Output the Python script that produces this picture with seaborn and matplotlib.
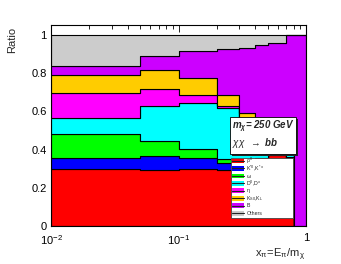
import numpy as np
import pandas as pd
import matplotlib
matplotlib.use("Agg")
import matplotlib.pyplot as plt
from matplotlib.patches import Rectangle
from matplotlib.lines import Line2D
from matplotlib.ticker import MultipleLocator, LogLocator, NullFormatter
import seaborn as sns

# ---- data ----
bin_edges = [0.01, 0.05, 0.1, 0.2, 0.3, 0.4, 0.5, 0.6, 0.7, 0.8, 0.9, 1.0]
species = ["ρ$^{0}$", "K$^{*0}$,K$^{*\\pm}$", "ω", "D$^{0}$,D$^{\\pm}$",
           "η", "K$_{S0}$,K$_{L}$", "B", "Others"]
rho    = [0.298, 0.294, 0.300, 0.293, 0.300, 0.330, 0.373, 0.373, 0.355, 0.0, 0.0]
kstar  = [0.061, 0.072, 0.057, 0.039, 0.020, 0.015, 0.005, 0.005, 0.002, 0.0, 0.0]
omega  = [0.122, 0.082, 0.049, 0.018, 0.015, 0.010, 0.004, 0.004, 0.003, 0.0, 0.0]
dmes   = [0.083, 0.181, 0.239, 0.268, 0.215, 0.145, 0.068, 0.058, 0.030, 0.0, 0.0]
eta    = [0.135, 0.087, 0.043, 0.012, 0.010, 0.010, 0.005, 0.005, 0.002, 0.0, 0.0]
kshort = [0.094, 0.099, 0.089, 0.056, 0.031, 0.020, 0.015, 0.015, 0.003, 0.0, 0.0]
bmes   = [0.045, 0.075, 0.139, 0.239, 0.339, 0.418, 0.490, 0.500, 0.605, 1.0, 1.0]
others = [0.162, 0.110, 0.084, 0.075, 0.070, 0.052, 0.040, 0.040, 0.0, 0.0, 0.0]
series = [rho, kstar, omega, dmes, eta, kshort, bmes, others]
colors = ["#FF0000", "#0000FF", "#00FF00", "#00FFFF", "#FF00FF", "#FFCC00", "#CC00FF", "#CCCCCC"]
ytick_vals = [0, 0.2, 0.4, 0.6, 0.8, 1.0]
ytick_labels = ["0", "0.2", "0.4", "0.6", "0.8", "1"]
xtick_vals = [0.01, 0.1, 1.0]
xtick_labels = [r"$10^{-2}$", r"$10^{-1}$", "1"]

edges = np.array(bin_edges)
centers = np.sqrt(edges[:-1] * edges[1:])
rows = []
for name, vals in zip(species, series):
    for c, v in zip(centers, vals):
        rows.append({"x": c, "w": v, "species": name})
df = pd.DataFrame(rows)

# ---- style ----
sns.set_theme(style="ticks")
plt.rcParams["font.family"] = ["Liberation Sans", "DejaVu Sans"]
plt.rcParams["mathtext.fontset"] = "custom"
plt.rcParams["mathtext.rm"] = "Liberation Sans"
plt.rcParams["mathtext.it"] = "Liberation Sans:italic"
plt.rcParams["mathtext.bf"] = "Liberation Sans:bold"
plt.rcParams["mathtext.bfit"] = "Liberation Sans:italic:bold"
plt.rcParams["mathtext.sf"] = "Liberation Sans"
plt.rcParams["mathtext.default"] = "regular"

W, H = 341, 264
fig = plt.figure(figsize=(W / 100, H / 100), dpi=100)
fig.patch.set_facecolor("white")

def fx(px):
    return px / W

def fy(py):
    return 1 - py / H

ax = fig.add_axes([fx(51), fy(226.3), fx(306) - fx(51), fy(25) - fy(226.3)])

palette = dict(zip(species, colors))
sns.histplot(data=df, x="x", weights="w", hue="species",
             hue_order=species[::-1], palette=palette,
             bins=[float(v) for v in np.log10(edges)], log_scale=True,
             multiple="stack", element="step", fill=True, alpha=1.0,
             edgecolor="black", linewidth=0.8, legend=False, ax=ax)

ax.set_xlim(0.01, 1.0)
ax.set_ylim(0, 1.052)
ax.set_xlabel("")
ax.set_ylabel("")
ax.yaxis.set_minor_locator(MultipleLocator(0.05))
ax.set_yticks(ytick_vals)
ax.set_yticklabels(ytick_labels)
ax.xaxis.set_minor_locator(LogLocator(base=10, subs=np.arange(2, 10), numticks=20))
ax.xaxis.set_minor_formatter(NullFormatter())
ax.set_xticks(xtick_vals)
ax.set_xticklabels(xtick_labels)
ax.tick_params(which="both", direction="in", top=True, right=True, colors="black",
               labelsize=8, width=0.6)
ax.tick_params(which="major", length=5)
ax.tick_params(axis="x", which="major", pad=5)
ax.tick_params(axis="y", which="major", pad=3)
ax.tick_params(which="minor", length=2.8)
for s in ax.spines.values():
    s.set_linewidth(0.8)
    s.set_color("black")
    s.set_visible(True)

# axis titles
fig.text(fx(12.5), fy(27), "Ratio", rotation=90, ha="center", va="top", fontsize=8)
fig.text(fx(305), fy(255), r"$\mathrm{x_{\pi}\!=\!E_{\pi}/m_{\chi}}$", ha="right", va="center", fontsize=8)

# text box with shadow
bx0, bx1, by0, by1 = 230, 296, 116.7, 154
fig.patches.append(Rectangle((fx(bx0 + 2), fy(by1 + 2)), fx(bx1) - fx(bx0), fy(by0) - fy(by1),
                             transform=fig.transFigure, facecolor="#222222", edgecolor="none", zorder=5))
fig.patches.append(Rectangle((fx(bx0), fy(by1)), fx(bx1) - fx(bx0), fy(by0) - fy(by1),
                             transform=fig.transFigure, facecolor="white", edgecolor="black",
                             linewidth=0.6, zorder=6))
fig.text(fx(232), fy(129), r"$\mathbfit{m_{\chi}}$= 250 GeV", fontsize=7, fontweight="bold",
         fontstyle="italic", ha="left", va="baseline", zorder=7)
fig.text(fx(232), fy(146), r"$\mathit{\chi\chi}$  $\rightarrow$ $\mathbfit{bb}$", fontsize=7,
         ha="left", va="baseline", zorder=7)

# legend (drawn as a ROOT-style legend box)
lx0, lx1, ly0, ly1 = 230.7, 293, 158, 218
fig.patches.append(Rectangle((fx(lx0), fy(ly1)), fx(lx1) - fx(lx0), fy(ly0) - fy(ly1),
                             transform=fig.transFigure, facecolor="white", edgecolor="#444444",
                             linewidth=0.6, zorder=8))
for i, (name, c) in enumerate(zip(species, colors)):
    yc = 161.0 + i * 7.45
    fig.patches.append(Rectangle((fx(231.8), fy(yc + 2.4)), fx(244) - fx(231.8), fy(yc - 2.4) - fy(yc + 2.4),
                                 transform=fig.transFigure, facecolor=c, edgecolor="none", zorder=9))
    fig.lines.append(Line2D([fx(231.8), fx(244)], [fy(yc), fy(yc)], transform=fig.transFigure,
                            color="#222222", lw=0.8, zorder=10))
    fig.text(fx(246.5), fy(yc + 1.6), name, fontsize=3.8, ha="left", va="baseline", zorder=10)

fig.savefig("out.png", dpi=100)
